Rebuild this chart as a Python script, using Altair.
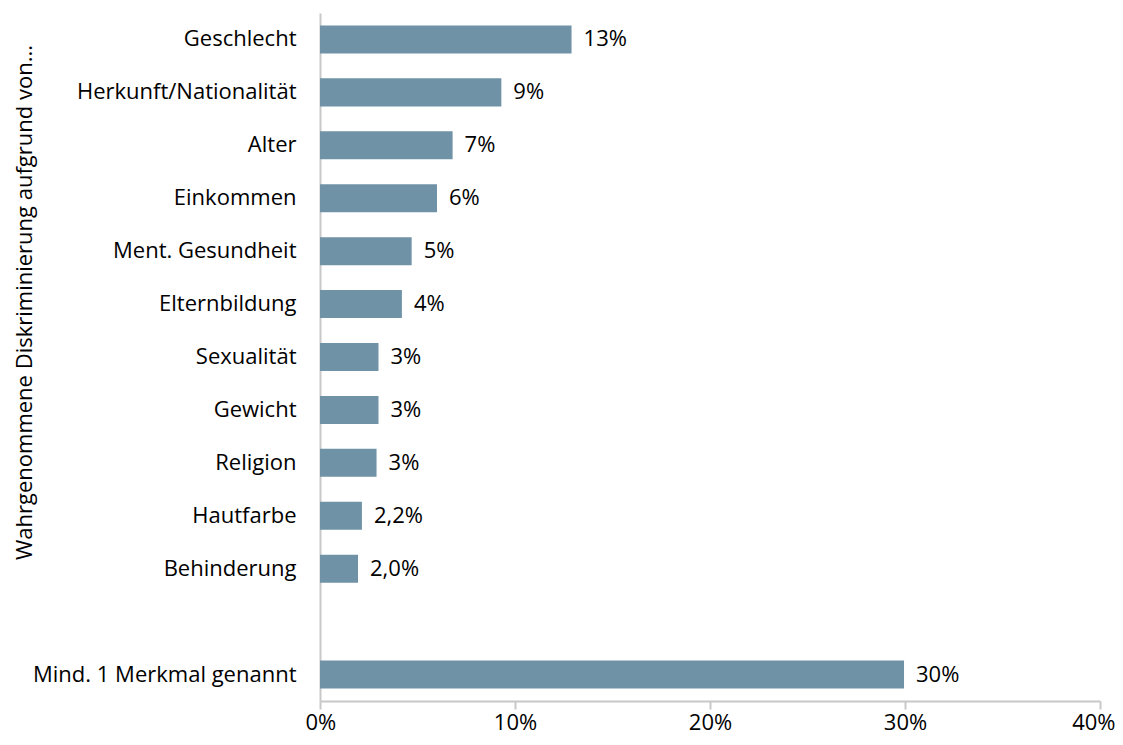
import altair as alt
import pandas as pd

categories = ["Geschlecht", "Herkunft/Nationalität", "Alter", "Einkommen", "Ment. Gesundheit",
              "Elternbildung", "Sexualität", "Gewicht", "Religion", "Hautfarbe", "Behinderung",
              " ", "Mind. 1 Merkmal genannt"]
values = [0.129, 0.093, 0.068, 0.060, 0.047, 0.042, 0.030, 0.030, 0.029, 0.0215, 0.0195, None, 0.2995]
labels = ["13%", "9%", "7%", "6%", "5%", "4%", "3%", "3%", "3%", "2,2%", "2,0%", "", "30%"]

df = pd.DataFrame({"cat": categories, "val": values, "lab": labels})
df_bars = df[df["val"].notna()]

FONT = "Open Sans"
FS = 22

y_enc = alt.Y("cat:N", sort=categories, scale=alt.Scale(domain=categories, paddingInner=0.47, paddingOuter=0.235),
              axis=alt.Axis(title="Wahrgenommene Diskriminierung aufgrund von...", titleFont=FONT,
                            titleFontSize=FS, titleFontWeight="normal", titleColor="#000000",
                            titleAngle=-90, titleX=-296, titleY=289, titleAlign="center",
                            titleBaseline="middle",
                            labelFont=FONT, labelFontSize=FS, labelColor="#000000", labelPadding=24,
                            ticks=False, domainColor="#c8c8c8", domainWidth=2, labelLimit=400))

bars = alt.Chart(df_bars).mark_bar(color="#6f92a7").encode(
    x=alt.X("val:Q", scale=alt.Scale(domain=[0, 0.4]),
            axis=alt.Axis(values=[0, 0.1, 0.2, 0.3, 0.4], format=".0%", title=None, grid=False,
                          labelFont=FONT, labelFontSize=FS, labelColor="#000000", labelPadding=3,
                          labelFlush=True, labelFlushOffset=15,
                          tickSize=8, tickColor="#c8c8c8", tickWidth=2, domainColor="#c8c8c8",
                          domainWidth=2)),
    y=y_enc,
)

text = alt.Chart(df_bars).mark_text(align="left", baseline="middle", dx=12, font=FONT, fontSize=FS,
                                    color="#000000").encode(
    x="val:Q", y=alt.Y("cat:N", sort=categories), text="lab:N")

chart = (bars + text).properties(
    width=780, height=688,
    background="white",
    autosize=alt.AutoSizeParams(type="none"),
    padding={"left": 312, "top": 5, "right": 15, "bottom": 36},
).configure_view(strokeWidth=0, stroke=None)

chart.save("out.html", embed_options={"renderer": "svg", "actions": False})
